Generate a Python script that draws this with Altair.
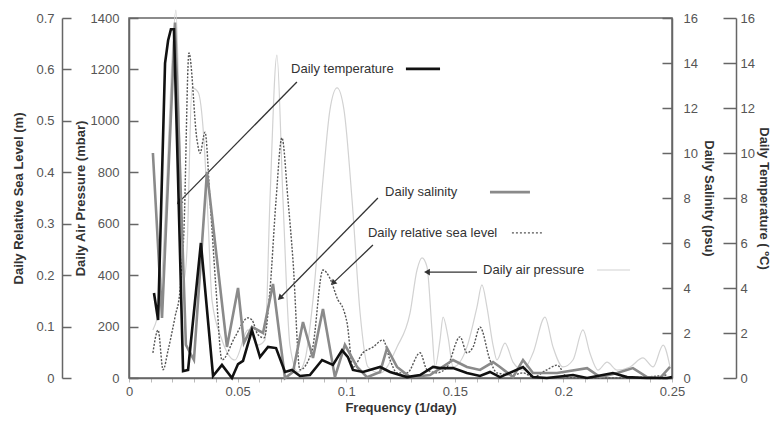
import altair as alt
import pandas as pd

# ---------------- data ----------------
temp_freq = [0.0115, 0.0134, 0.0166, 0.0180, 0.0193, 0.0207, 0.0226, 0.0249, 0.0272, 0.0331,
             0.0387, 0.0428, 0.0474, 0.0502, 0.0525, 0.0566, 0.0603, 0.0640, 0.0677, 0.0718,
             0.0750, 0.0787, 0.0833, 0.0889, 0.0939, 0.0981, 0.1008, 0.1031, 0.1077, 0.1156,
             0.1202, 0.1280, 0.1340, 0.1400, 0.1432, 0.1492, 0.1556, 0.1616, 0.1662, 0.1708,
             0.1814, 0.1860, 0.1924, 0.2044, 0.2109, 0.2228, 0.2293, 0.2385, 0.2477, 0.2500]
temp_val = [3.78, 2.58, 14.0, 15.0, 15.5, 15.5, 8.8, 0.31, 0.36, 6.0,
            0.09, 0.58, 0.0, 0.62, 0.76, 2.13, 0.93, 1.38, 1.33, 0.27,
            0.36, 0.09, 0.13, 0.8, 0.58, 1.24, 0.93, 0.36, 0.27, 0.49,
            0.27, 0.04, 0.13, 0.49, 0.44, 0.44, 0.22, 0.09, 0.27, 0.04,
            0.49, 0.04, 0.0, 0.13, 0.0, 0.22, 0.04, 0.0, 0.0, 0.04]

sal_freq = [0.0110, 0.0152, 0.0212, 0.0262, 0.0299, 0.0359, 0.0451, 0.0502, 0.0529, 0.0566,
            0.0617, 0.0663, 0.0718, 0.0755, 0.0801, 0.0847, 0.0893, 0.0948, 0.0994, 0.1050,
            0.1096, 0.1156, 0.1188, 0.1234, 0.1294, 0.1386, 0.1492, 0.1556, 0.1616, 0.1676,
            0.1708, 0.1768, 0.1814, 0.1860, 0.1971, 0.2109, 0.2169, 0.2247, 0.2320, 0.2385,
            0.2445, 0.2491]
sal_val = [10.0, 2.67, 15.8, 1.47, 0.8, 9.16, 1.38, 4.0, 1.56, 2.27,
           2.0, 4.18, 0.0, 0.27, 2.49, 0.89, 3.07, 0.04, 1.47, 0.49,
           0.04, 0.27, 1.33, 0.49, 0.04, 0.13, 0.8, 0.49, 0.36, 0.71,
           0.49, 0.04, 0.8, 0.22, 0.22, 0.44, 0.04, 0.22, 0.44, 0.04,
           0.0, 0.49]

sea_freq = [0.0110, 0.0134, 0.0157, 0.0180, 0.0212, 0.0235, 0.0253, 0.0276, 0.0313, 0.0327,
            0.0350, 0.0373, 0.0401, 0.0428, 0.0488, 0.0548, 0.0566, 0.0594, 0.0622, 0.0649,
            0.0677, 0.0704, 0.0732, 0.0755, 0.0787, 0.0843, 0.0893, 0.0925, 0.0962, 0.0985,
            0.1004, 0.1031, 0.1077, 0.1123, 0.1169, 0.1202, 0.1234, 0.1280, 0.1340, 0.1372,
            0.1418, 0.1464, 0.1524, 0.1556, 0.1584, 0.1616, 0.1662, 0.1694, 0.1768, 0.1814,
            0.1860, 0.1924, 0.1971, 0.2017, 0.2076, 0.2228, 0.2385, 0.2477]
sea_val = [0.049, 0.093, 0.016, 0.054, 0.119, 0.171, 0.288, 0.632, 0.463, 0.437,
           0.478, 0.346, 0.171, 0.035, 0.080, 0.117, 0.113, 0.084, 0.078, 0.171,
           0.346, 0.467, 0.346, 0.229, 0.016, 0.054, 0.210, 0.194, 0.152, 0.136,
           0.107, 0.021, 0.049, 0.060, 0.074, 0.035, 0.010, 0.010, 0.049, 0.016,
           0.010, 0.021, 0.080, 0.049, 0.060, 0.099, 0.035, 0.010, 0.006, 0.010,
           0.002, 0.016, 0.025, 0.002, 0.0, 0.0, 0.002, 0.006]

pres_freq = [0.0110, 0.0143, 0.0180, 0.0198, 0.0216, 0.0235, 0.0253, 0.0267, 0.0290, 0.0318,
             0.0345, 0.0364, 0.0382, 0.0428, 0.0488, 0.0548, 0.0594, 0.0626, 0.0649, 0.0681,
             0.0709, 0.0741, 0.0778, 0.0810, 0.0847, 0.0893, 0.0925, 0.0958, 0.0990, 0.1027,
             0.1064, 0.1100, 0.1156, 0.1234, 0.1294, 0.1326, 0.1349, 0.1372, 0.1395, 0.1409,
             0.1432, 0.1446, 0.1469, 0.1492, 0.1556, 0.1602, 0.1625, 0.1648, 0.1676, 0.1694,
             0.1731, 0.1768, 0.1814, 0.1860, 0.1915, 0.1952, 0.1998, 0.2044, 0.2090, 0.2122,
             0.2159, 0.2201, 0.2247, 0.2307, 0.2366, 0.2413, 0.2459, 0.2491]
pres_val = [187, 303, 887, 1237, 1431, 887, 381, 498, 1128, 1112,
            926, 614, 303, 148, 70, 187, 128, 148, 692, 1256,
            692, 128, 23, 70, 303, 770, 1042, 1128, 1042, 692,
            253, 43, 19, 121, 253, 420, 467, 432, 187, 43,
            148, 237, 159, 43, 121, 276, 362, 276, 128, 70,
            136, 62, 31, 97, 237, 121, 43, 70, 187, 97,
            31, 62, 31, 43, 78, 43, 128, 43]

x_ticks = [0.0, 0.01, 0.02, 0.03, 0.04, 0.05, 0.06, 0.07, 0.08, 0.09, 0.1, 0.11, 0.12,
           0.13, 0.14, 0.15, 0.16, 0.17, 0.18, 0.19, 0.2, 0.21, 0.22, 0.23, 0.24, 0.25]
x_labels = ["0", "0.05", "0.1", "0.15", "0.2", "0.25"]
sea_ticks = [0, 0.1, 0.2, 0.3, 0.4, 0.5, 0.6, 0.7]
pres_ticks = [0, 200, 400, 600, 800, 1000, 1200, 1400]
deg_ticks = [0, 2, 4, 6, 8, 10, 12, 14, 16]

# annotations (in frequency / air-pressure coordinates)
ann_text = ["Daily temperature", "Daily salinity", "Daily relative sea level", "Daily air pressure"]
ann_f = [0.0746, 0.1179, 0.1100, 0.1630]
ann_p = [1202, 723, 564, 420]
key_f1 = [0.1275, 0.1662, 0.1763, 0.2155]
key_f2 = [0.1432, 0.1846, 0.1901, 0.2307]
arr_f1 = [0.0773, 0.1146, 0.1123, 0.1602]
arr_p1 = [1151, 700, 517, 412]
arr_f2 = [0.0230, 0.0695, 0.0939, 0.1372]
arr_p2 = [684, 311, 369, 412]
arr_ang = [225, 224, 227, 270]

FONT = "Liberation Sans"
AX = "#666666"

temp_df = pd.DataFrame({"f": temp_freq, "v": temp_val})
sal_df = pd.DataFrame({"f": sal_freq, "v": sal_val})
sea_df = pd.DataFrame({"f": sea_freq, "v": sea_val})
pres_df = pd.DataFrame({"f": pres_freq, "v": pres_val})
ann_df = pd.DataFrame({"t": ann_text, "f": ann_f, "p": ann_p, "k1": key_f1, "k2": key_f2})
arr_df = pd.DataFrame({"f1": arr_f1, "p1": arr_p1, "f2": arr_f2, "p2": arr_p2, "ang": arr_ang})

fmt = "format(datum.value, '.2~f')"
label_expr = "indexof(" + str(x_labels) + ", " + fmt + ") >= 0 ? " + fmt + " : ''"
x_axis = alt.Axis(values=x_ticks, labelExpr=label_expr, title="Frequency (1/day)",
                  grid=False, domainColor=AX, domainWidth=1.5, tickColor="#bbbbbb",
                  tickSize=4, labelPadding=3, titlePadding=3, labelFlush=False,
                  labelOverlap=False)
xs = alt.Scale(domain=[0, 0.25], nice=False, zero=False)


def X(field="f"):
    return alt.X(f"{field}:Q", scale=xs, axis=x_axis)


def yaxis(orient, offset, values, title, tick, pad, tpad, fmt):
    return alt.Axis(orient=orient, offset=offset, values=values, title=title, grid=False,
                    domainColor=AX, domainWidth=1.5, tickColor=AX, tickWidth=1.5,
                    tickSize={"expr": str(-tick)}, labelPadding=pad + tick,
                    titlePadding=tpad, format=fmt)


pres_scale = alt.Scale(domain=[0, 1400], nice=False, zero=True)

pres_line = alt.Chart(pres_df).mark_line(color="#d2d2d2", strokeWidth=1.2, interpolate="monotone").encode(
    x=X(), y=alt.Y("v:Q", scale=pres_scale,
                   axis=yaxis("left", 0, pres_ticks, "Daily Air Pressure (mbar)", 9, 10, 3, "d")))

txt = alt.Chart(ann_df).mark_text(align="left", baseline="middle", fontSize=13, color="#333333",
                                  font=FONT).encode(x=X(), y=alt.Y("p:Q", scale=pres_scale), text="t:N")

key_styles = [dict(color="#111111", strokeWidth=2.6),
              dict(color="#8a8a8a", strokeWidth=2.6),
              dict(color="#555555", strokeWidth=1.2, strokeDash=[2, 2]),
              dict(color="#d2d2d2", strokeWidth=1.2)]
keys = []
for i, st in enumerate(key_styles):
    keys.append(alt.Chart(ann_df.iloc[[i]]).mark_rule(**st).encode(
        x=X("k1"), x2="k2:Q", y=alt.Y("p:Q", scale=pres_scale)))

arrows = alt.Chart(arr_df).mark_rule(color="#333333", strokeWidth=1.3).encode(
    x=X("f1"), x2="f2:Q", y=alt.Y("p1:Q", scale=pres_scale), y2="p2:Q")
heads = alt.Chart(arr_df).mark_point(shape="triangle-up", filled=True, color="#333333",
                                     size=45, opacity=1).encode(
    x=X("f2"), y=alt.Y("p2:Q", scale=pres_scale), angle=alt.Angle("ang:Q", scale=None))

pres_group = alt.layer(pres_line, txt, *keys, arrows, heads)

sea_line = alt.Chart(sea_df).mark_line(color="#555555", strokeWidth=1.4, strokeDash=[2, 1.5],
                                       interpolate="monotone").encode(
    x=X(), y=alt.Y("v:Q", scale=alt.Scale(domain=[0, 0.7], nice=False),
                   axis=yaxis("left", 67, sea_ticks, "Daily Relative Sea Level (m)", 9, 8, 10, "")))

sal_line = alt.Chart(sal_df).mark_line(color="#8a8a8a", strokeWidth=2.6).encode(
    x=X(), y=alt.Y("v:Q", scale=alt.Scale(domain=[0, 16], nice=False),
                   axis=yaxis("right", 0, deg_ticks, "Daily Salinity (psu)", 10, 11, 4, "d")))

temp_line = alt.Chart(temp_df).mark_line(color="#111111", strokeWidth=2.6).encode(
    x=X(), y=alt.Y("v:Q", scale=alt.Scale(domain=[0, 16], nice=False),
                   axis=yaxis("right", 64, deg_ticks, "Daily Temperature ( ºC)", 13, 4, 2, "d")))

chart = alt.layer(pres_group, sea_line, sal_line, temp_line).resolve_scale(
    y="independent").properties(
    width=543, height=360,
    autosize=alt.AutoSizeParams(type="none"),
    padding={"left": 121, "top": 10, "right": 104, "bottom": 39},
).configure(font=FONT).configure_view(stroke=AX, strokeWidth=1.5).configure_axis(
    labelFont=FONT, titleFont=FONT, labelFontSize=13, labelColor="#555555",
    titleFontSize=13, titleFontWeight="bold", titleColor="#333333")

chart.save("out.html", embed_options={"renderer": "svg", "actions": False})
